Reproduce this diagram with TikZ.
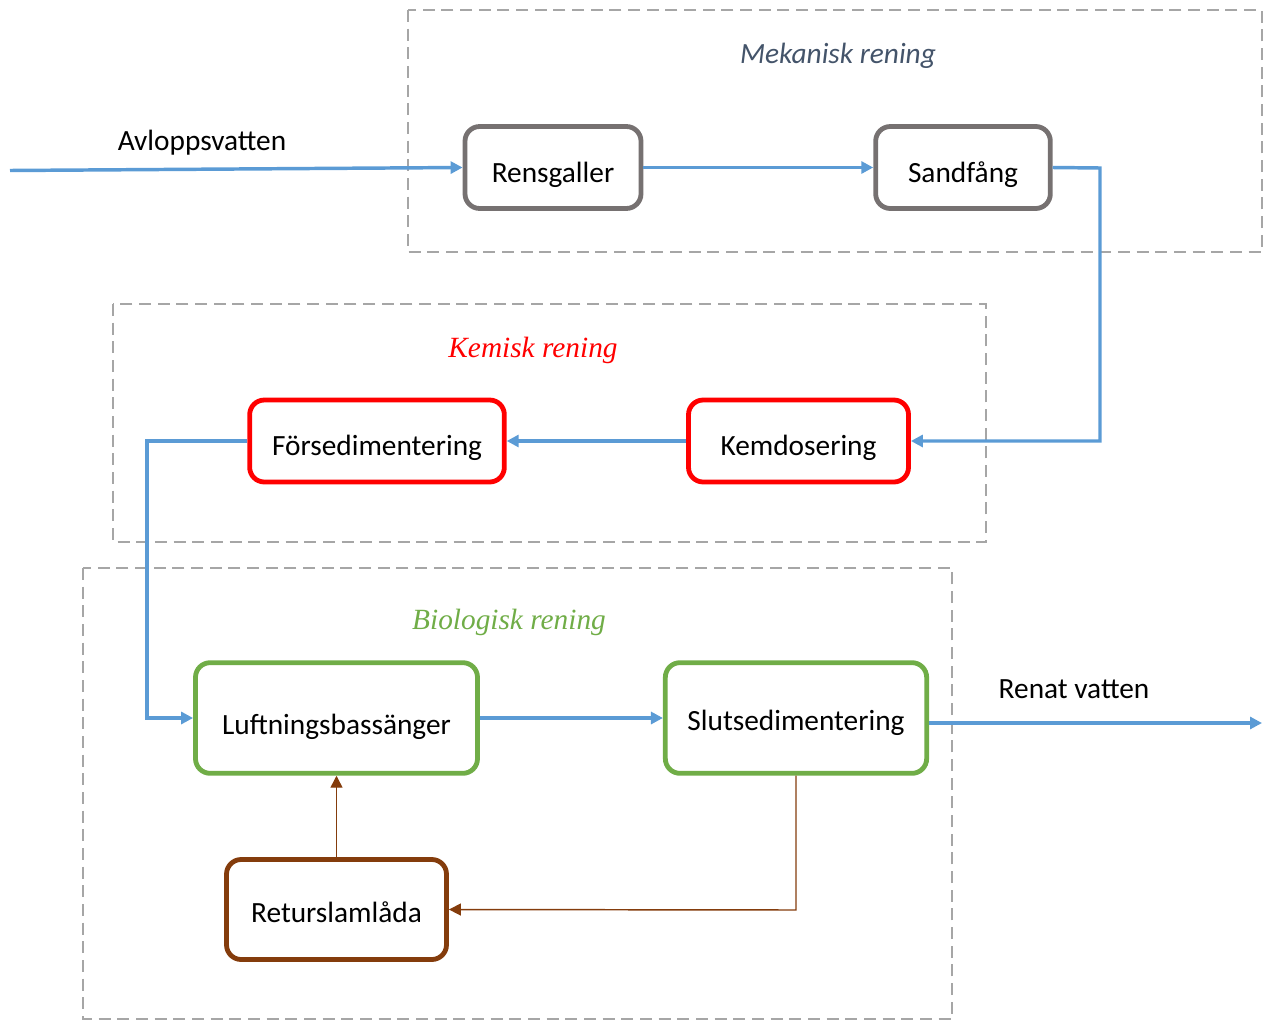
\documentclass[tikz,border=0pt]{standalone}
\usepackage{fontspec}
\setmainfont{Carlito}
\newfontfamily\timesit{Liberation Serif}
\usetikzlibrary{arrows.meta}
\definecolor{flowblue}{HTML}{5B9BD5}
\definecolor{mekgray}{HTML}{767171}
\definecolor{mekblue}{HTML}{44546A}
\definecolor{kemred}{HTML}{FF0000}
\definecolor{biogreen}{HTML}{70AD47}
\definecolor{slambrown}{HTML}{843C0C}
\definecolor{groupgray}{HTML}{A6A6A6}
\newcommand\baseat[2]{\raisebox{-#1}[0pt][0pt]{#2}}
\tikzset{
  procbox/.style={draw, line width=3.6pt, rounded corners=11pt, fill=white, align=center, font=\fontsize{22}{26}\selectfont, inner sep=0pt},
  groupbox/.style={draw=groupgray, line width=1.5pt, dash pattern=on 9pt off 5pt},
  flow/.style={draw=flowblue, line width=2.6pt, -{Triangle[length=9pt,width=9pt]}},
  slam/.style={draw=slambrown, line width=1.1pt, -{Triangle[length=9pt,width=9pt]}},
  lbl/.style={font=\fontsize{22}{26}\selectfont, inner sep=0pt}
}
\begin{document}
\begin{tikzpicture}[x=0.75pt,y=-0.75pt]
\useasboundingbox (0,0) rectangle (1265,1021);
% group boxes
\draw[groupbox] (408,10) rectangle (1262,252);
\draw[groupbox] (113,304) rectangle (986,542);
\draw[groupbox] (83,568) rectangle (952,1019);
\node[lbl, text=mekblue, font=\fontsize{22}{26}\selectfont\itshape] (lmek) at (838,56) {Mekanisk rening};
\node[lbl, text=kemred, font=\fontsize{22}{26}\selectfont\timesit\itshape] (lkem) at (533,350) {Kemisk rening};
\node[lbl, text=biogreen, font=\fontsize{22}{26}\selectfont\timesit\itshape] (lbio) at (509,622) {Biologisk rening};
% boxes
\node[procbox, draw=mekgray, minimum width=132pt, minimum height=61.5pt] (rens) at (553,167.5) {\baseat{11pt}{Rensgaller}};
\node[procbox, draw=mekgray, minimum width=131pt, minimum height=61.5pt] (sand) at (963,167.5) {\baseat{11pt}{Sandfång}};
\node[procbox, draw=kemred, minimum width=165pt, minimum height=61.5pt] (kem) at (798.5,441) {\baseat{11pt}{Kemdosering}};
\node[procbox, draw=kemred, minimum width=191pt, minimum height=61.5pt] (fors) at (377,441) {\baseat{11pt}{Försedimentering}};
\node[procbox, draw=biogreen, minimum width=211.5pt, minimum height=83pt] (luft) at (336.5,718) {\baseat{12pt}{Luftningsbassänger}};
\node[procbox, draw=biogreen, minimum width=196pt, minimum height=83pt] (slut) at (796,718) {\baseat{9pt}{Slutsedimentering}};
\node[procbox, draw=slambrown, minimum width=165pt, minimum height=75pt] (retur) at (336.5,909.5) {\baseat{9.5pt}{Returslamlåda}};
% outer labels
\node[lbl] (lavl) at (202,143) {Avloppsvatten};
\node[lbl] (lren) at (1074,689) {Renat vatten};
% coordinates
\coordinate (in) at (10,170.5);
\coordinate (out) at (1262,723);
\coordinate (c1) at (1100,168);
\coordinate (c2) at (1100,441);
\coordinate (c3) at (147,441);
\coordinate (c4) at (147,718);
\coordinate (c5) at (796,910);
% connectors
\draw[flow] (in) -- (rens.west);
\draw[flow] (rens.east) -- (sand.west);
\draw[flow] (sand.east) -- (c1) -- (c2) -- (kem.east);
\draw[flow] (kem.west) -- (fors.east);
\draw[flow] (fors.west) -- (c3) -- (c4) -- (luft.west);
\draw[flow] (luft.east) -- (slut.west);
\draw[flow] (slut.east |- out) -- (out);
\draw[slam] (slut.south) -- (c5) -- (retur.east);
\draw[slam] (retur.north) -- (luft.south);
\end{tikzpicture}
\end{document}
